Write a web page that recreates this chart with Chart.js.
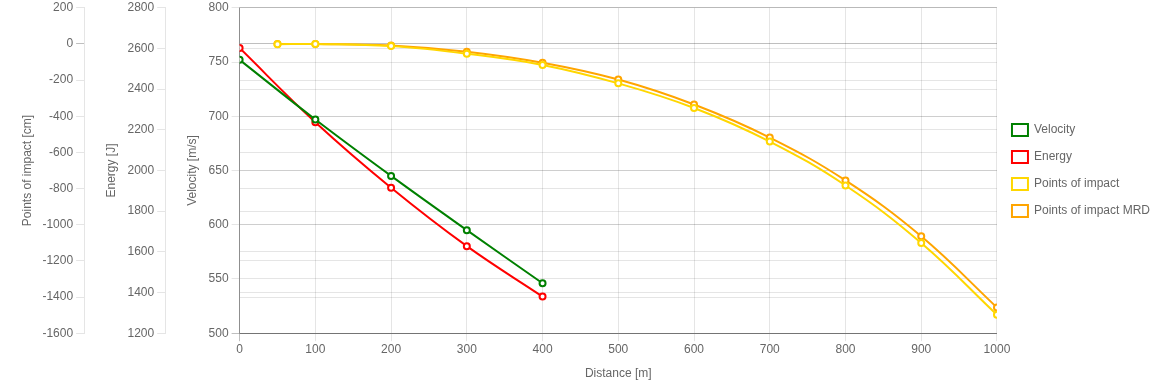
<!DOCTYPE html>
<html lang="en">
<head>
    <meta charset="UTF-8">
    <title>Ballistics</title>
    <script src="https://cdn.jsdelivr.net/npm/chart.js"></script>
    <style>
        body {
            margin: 0;
            padding: 0;
            background-color: #ffffff;
        }

        #wrap {
            position: relative;
            width: 1160px;
            height: 386px;
        }
    </style>
</head>
<body>
    <div id="wrap">
        <canvas id="ballisticsChart"></canvas>
    </div>

    <script>
        // Distancias (m)
        const distanceVE = [0, 100, 200, 300, 400];
        const distancePOI = [50, 100, 200, 300, 400, 500, 600, 700, 800, 900, 1000];

        // Series
        const velocity = [752, 697, 645, 595, 546];          // m/s
        const energy = [2602, 2237, 1915, 1628, 1380];       // J
        const pointsOfImpact = [-1, 0, -12, -54, -116, -218, -354, -540, -783, -1101, -1498]; // cm
        const pointsOfImpactMRD = [0, 0, -8, -43, -104, -197, -335, -518, -755, -1064, -1458]; // cm

        const toXY = (xs, ys) => xs.map((x, i) => ({ x: x, y: ys[i] }));

        const gridLight = 'rgba(0, 0, 0, 0.1)';
        const gridDark = 'rgba(0, 0, 0, 0.25)';
        const plain = v => String(v); // sin separador de miles

        Chart.defaults.font.family = 'Arial, "Liberation Sans", Helvetica, sans-serif';
        Chart.defaults.font.size = 12;
        Chart.defaults.color = '#666';

        function serie(label, color, xs, ys, axis) {
            return {
                label: label,
                data: toXY(xs, ys),
                yAxisID: axis,
                borderColor: color,
                backgroundColor: 'rgba(255, 255, 255, 0)',
                pointBackgroundColor: '#fff',
                pointBorderColor: color,
                pointRadius: 3,
                pointBorderWidth: 2,
                borderWidth: 2,
                tension: 0.4,
                fill: false
            };
        }

        function axisTitle(text, pTop, pBottom) {
            return {
                display: true,
                text: text,
                padding: { top: pTop, bottom: pBottom }
            };
        }

        const yTicks = step => ({ stepSize: step, callback: plain, font: { lineHeight: 0.8 } });

        const ctx = document.getElementById('ballisticsChart').getContext('2d');
        new Chart(ctx, {
            type: 'line',
            data: {
                datasets: [
                    serie('Velocity', 'green', distanceVE, velocity, 'yVelocity'),
                    serie('Energy', 'red', distanceVE, energy, 'yEnergy'),
                    serie('Points of impact', '#ffd700', distancePOI, pointsOfImpact, 'yPoints'),
                    serie('Points of impact MRD', 'orange', distancePOI, pointsOfImpactMRD, 'yPoints')
                ]
            },
            options: {
                responsive: true,
                maintainAspectRatio: false,
                animation: false,
                layout: {
                    padding: 0
                },
                plugins: {
                    legend: {
                        position: 'right',
                        fullSize: false,
                        maxWidth: 200,
                        labels: {
                            boxWidth: 16,
                            boxHeight: 12,
                            padding: 15,
                            color: '#666'
                        }
                    },
                    tooltip: { enabled: false }
                },
                scales: {
                    x: {
                        type: 'linear',
                        min: 0,
                        max: 1000,
                        ticks: { stepSize: 100, padding: 1, callback: plain },
                        grid: {
                            color: c => c.tick && c.tick.value === 0 ? gridDark : gridLight
                        },
                        border: { color: gridDark },
                        title: {
                            display: true,
                            text: 'Distance [m]',
                            padding: { top: 9, bottom: 5 }
                        }
                    },
                    yVelocity: {
                        position: 'left',
                        weight: 0,
                        min: 500,
                        max: 800,
                        ticks: yTicks(50),
                        grid: {
                            color: c => c.tick && c.tick.value === 500 ? gridDark : gridLight
                        },
                        border: { color: gridDark },
                        title: axisTitle('Velocity [m/s]', 20, 6)
                    },
                    yEnergy: {
                        position: 'left',
                        weight: 1,
                        min: 1200,
                        max: 2800,
                        ticks: yTicks(200),
                        grid: { color: gridLight },
                        border: { color: gridLight },
                        title: axisTitle('Energy [J]', 20, 6)
                    },
                    yPoints: {
                        position: 'left',
                        weight: 2,
                        min: -1600,
                        max: 200,
                        ticks: yTicks(200),
                        grid: {
                            color: c => c.tick && c.tick.value === 0 ? gridDark : gridLight
                        },
                        border: { color: gridLight },
                        title: axisTitle('Points of impact [cm]', 20, 5)
                    }
                }
            }
        });
    </script>
</body>
</html>
